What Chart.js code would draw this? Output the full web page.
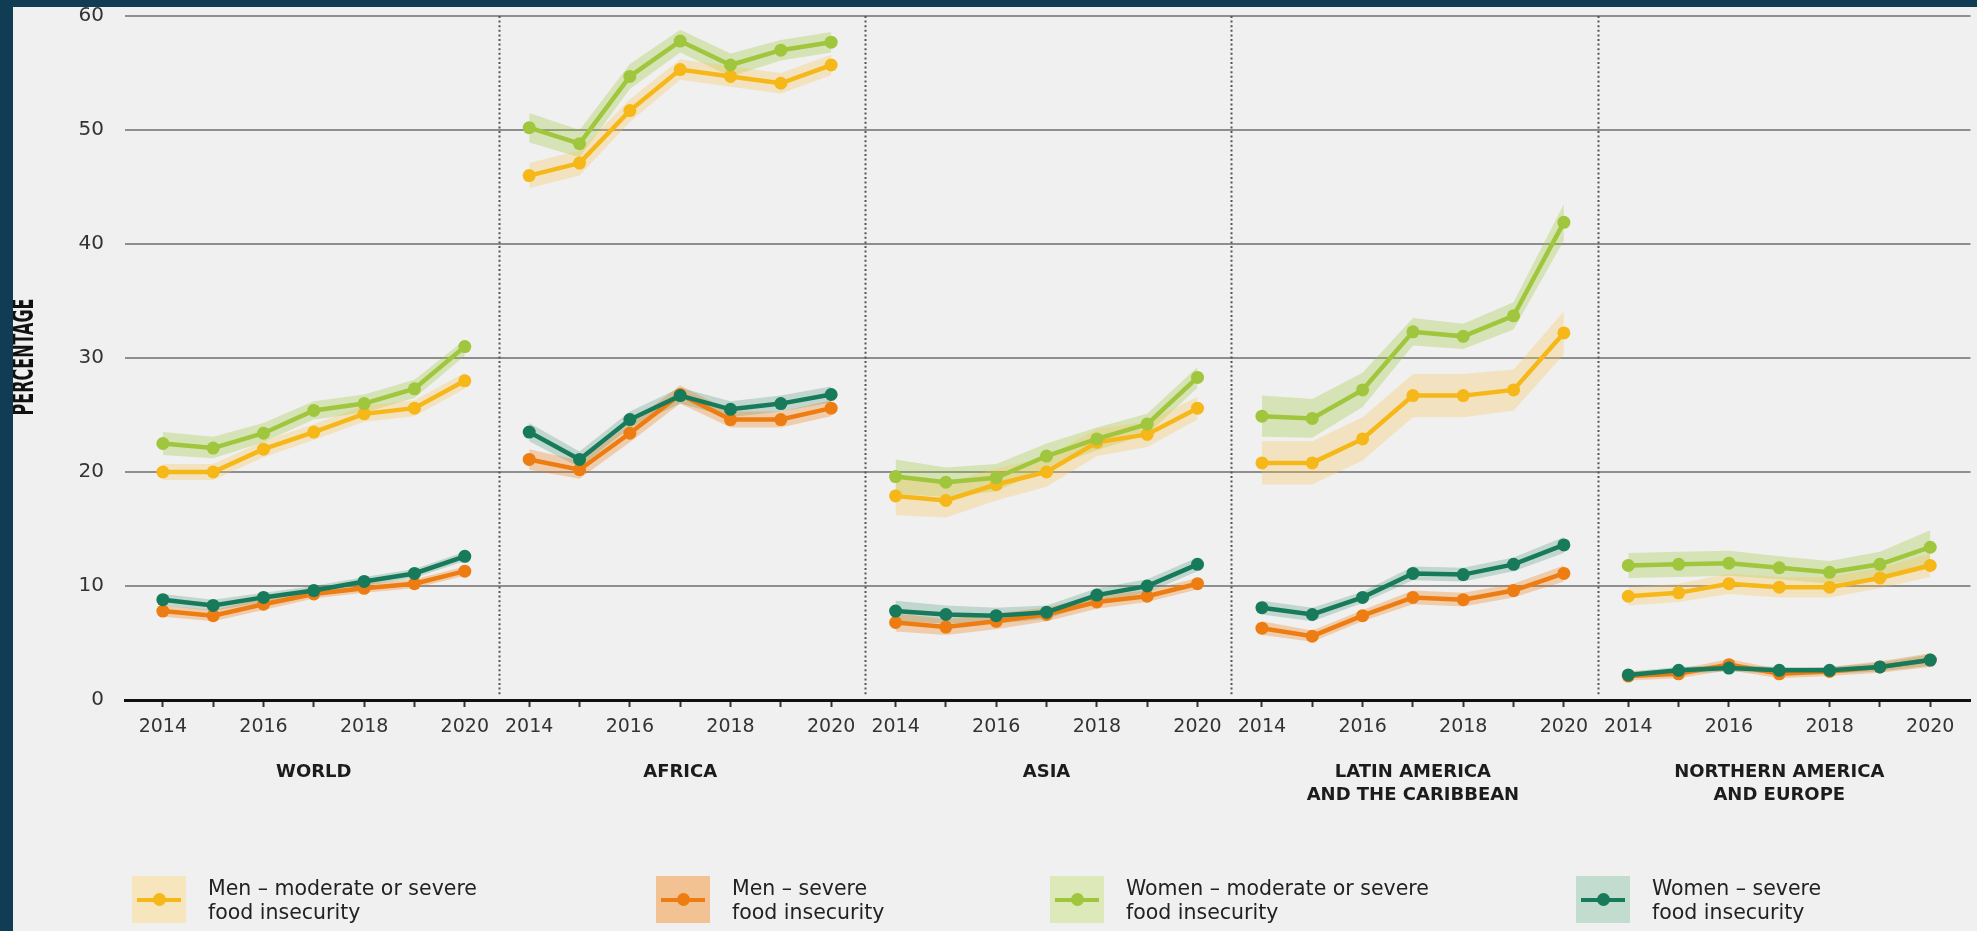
<!DOCTYPE html>
<html>
<head>
<meta charset="utf-8">
<script src="https://cdn.jsdelivr.net/npm/chart.js@4/dist/chart.umd.min.js"></script>
<style>
  html, body { margin: 0; padding: 0; }
  body { width: 1977px; height: 931px; background: #f0f0f0; position: relative; overflow: hidden; font-family: "DejaVu Sans", sans-serif; }
  #chart { position: absolute; left: 0; top: 0; }
  .band { position: absolute; background: #103d54; z-index: 2; }
  #band-top { left: 0; top: 0; width: 1977px; height: 7px; }
  #band-left { left: 0; top: 0; width: 13px; height: 931px; }
  .legend-item { position: absolute; top: 876px; }
  .swatch { position: absolute; left: 0; top: 0; width: 54px; height: 47px; }
  .swatch .stroke { position: absolute; left: 5px; right: 5px; top: 21.5px; height: 4px; }
  .swatch .dot { position: absolute; left: 20.5px; top: 17px; width: 13px; height: 13px; border-radius: 50%; }
  .legend-text { position: absolute; left: 76px; top: 0; white-space: nowrap; font-size: 20.5px; line-height: 24px; color: #222; }
</style>
</head>
<body>
<canvas id="chart" width="1977" height="931"></canvas>
<div class="band" id="band-top"></div>
<div class="band" id="band-left"></div>
<div id="legend"></div>
<script>
// Survey years and region panels
const years = [2014, 2015, 2016, 2017, 2018, 2019, 2020];
const yearLabels = ['2014', '', '2016', '', '2018', '', '2020'];
const regions = [
  ['WORLD'],
  ['AFRICA'],
  ['ASIA'],
  ['LATIN AMERICA', 'AND THE CARIBBEAN'],
  ['NORTHERN AMERICA', 'AND EUROPE']
];
const yTicks = [0, 10, 20, 30, 40, 50, 60];

// Prevalence (%) per region, one row of 7 years per region
const menModerate = [
  [20.0, 20.0, 22.0, 23.5, 25.1, 25.6, 28.0],
  [46.0, 47.1, 51.7, 55.3, 54.7, 54.1, 55.7],
  [17.9, 17.5, 18.9, 20.0, 22.6, 23.3, 25.6],
  [20.8, 20.8, 22.9, 26.7, 26.7, 27.2, 32.2],
  [9.1, 9.4, 10.2, 9.9, 9.9, 10.7, 11.8]
];
const menModerateLow = [
  [19.3, 19.3, 21.3, 22.8, 24.4, 24.9, 27.3],
  [44.9, 46.0, 50.7, 54.4, 53.8, 53.2, 54.8],
  [16.2, 16.0, 17.5, 18.7, 21.4, 22.2, 24.6],
  [18.9, 18.9, 21.0, 24.8, 24.8, 25.4, 30.3],
  [8.3, 8.6, 9.3, 9.0, 9.0, 9.8, 10.8]
];
const menModerateHigh = [
  [20.7, 20.7, 22.7, 24.2, 25.8, 26.3, 28.7],
  [47.1, 48.2, 52.7, 56.2, 55.6, 55.0, 56.6],
  [19.6, 19.0, 20.3, 21.3, 23.8, 24.4, 26.6],
  [22.7, 22.7, 24.8, 28.6, 28.6, 29.0, 34.1],
  [9.9, 10.2, 11.1, 10.8, 10.8, 11.6, 12.8]
];

const menSevere = [
  [7.8, 7.4, 8.4, 9.3, 9.8, 10.2, 11.3],
  [21.1, 20.2, 23.4, 26.8, 24.6, 24.6, 25.6],
  [6.8, 6.4, 6.9, 7.5, 8.6, 9.1, 10.2],
  [6.3, 5.6, 7.4, 9.0, 8.8, 9.6, 11.1],
  [2.1, 2.3, 3.1, 2.3, 2.5, 2.9, 3.5]
];
const menSevereLow = [
  [7.3, 6.9, 7.9, 8.9, 9.4, 9.8, 10.9],
  [20.2, 19.4, 22.6, 26.0, 23.9, 23.9, 24.9],
  [6.0, 5.7, 6.2, 6.9, 8.0, 8.6, 9.7],
  [5.7, 5.1, 6.9, 8.4, 8.2, 9.0, 10.4],
  [1.7, 1.9, 2.6, 1.9, 2.1, 2.4, 2.9]
];
const menSevereHigh = [
  [8.3, 7.9, 8.9, 9.7, 10.2, 10.6, 11.7],
  [22.0, 21.0, 24.2, 27.6, 25.3, 25.3, 26.3],
  [7.6, 7.1, 7.6, 8.1, 9.2, 9.6, 10.7],
  [6.9, 6.1, 7.9, 9.6, 9.4, 10.2, 11.8],
  [2.5, 2.7, 3.6, 2.7, 2.9, 3.4, 4.1]
];

const womenModerate = [
  [22.5, 22.1, 23.4, 25.4, 26.0, 27.3, 31.0],
  [50.2, 48.8, 54.7, 57.8, 55.7, 57.0, 57.7],
  [19.6, 19.1, 19.5, 21.4, 22.9, 24.2, 28.3],
  [24.9, 24.7, 27.2, 32.3, 31.9, 33.7, 41.9],
  [11.8, 11.9, 12.0, 11.6, 11.2, 11.9, 13.4]
];
const womenModerateLow = [
  [21.5, 21.2, 22.6, 24.6, 25.2, 26.5, 30.2],
  [48.9, 47.6, 53.6, 56.8, 54.7, 56.1, 56.8],
  [18.1, 17.8, 18.3, 20.3, 21.9, 23.3, 27.4],
  [23.1, 23.0, 25.7, 31.1, 30.8, 32.5, 40.3],
  [10.7, 10.8, 10.9, 10.6, 10.2, 10.8, 11.9]
];
const womenModerateHigh = [
  [23.5, 23.1, 24.3, 26.2, 26.8, 28.1, 31.6],
  [51.5, 50.0, 55.8, 58.8, 56.7, 57.9, 58.6],
  [21.1, 20.4, 20.7, 22.5, 23.9, 25.1, 29.2],
  [26.7, 26.4, 28.7, 33.5, 33.0, 34.9, 43.5],
  [12.9, 13.0, 13.1, 12.6, 12.2, 13.0, 14.9]
];

const womenSevere = [
  [8.8, 8.3, 9.0, 9.6, 10.4, 11.1, 12.6],
  [23.5, 21.1, 24.6, 26.7, 25.5, 26.0, 26.8],
  [7.8, 7.5, 7.4, 7.7, 9.2, 10.0, 11.9],
  [8.1, 7.5, 9.0, 11.1, 11.0, 11.9, 13.6],
  [2.2, 2.6, 2.8, 2.6, 2.6, 2.9, 3.5]
];
const womenSevereLow = [
  [8.3, 7.8, 8.6, 9.2, 10.0, 10.7, 12.2],
  [22.7, 20.4, 23.9, 26.0, 24.8, 25.3, 26.1],
  [6.9, 6.7, 6.7, 7.1, 8.6, 9.4, 11.3],
  [7.5, 6.9, 8.5, 10.5, 10.4, 11.3, 12.9],
  [1.9, 2.3, 2.5, 2.3, 2.3, 2.5, 3.0]
];
const womenSevereHigh = [
  [9.3, 8.8, 9.4, 10.0, 10.8, 11.5, 13.0],
  [24.3, 21.8, 25.3, 27.4, 26.2, 26.7, 27.5],
  [8.7, 8.3, 8.1, 8.3, 9.8, 10.6, 12.5],
  [8.7, 8.1, 9.5, 11.7, 11.6, 12.5, 14.3],
  [2.5, 2.9, 3.1, 2.9, 2.9, 3.3, 4.0]
];

// Series styling and legend text
const series = [
  { label: ['Men – moderate or severe', 'food insecurity'], values: menModerate, low: menModerateLow, high: menModerateHigh,
    line: '#f6b719', band: 'rgba(247,196,80,0.30)', swatch: '#f7e5bd', order: 4 },
  { label: ['Men – severe', 'food insecurity'], values: menSevere, low: menSevereLow, high: menSevereHigh,
    line: '#ed7d12', band: 'rgba(237,125,18,0.30)', swatch: '#f3c293', order: 2 },
  { label: ['Women – moderate or severe', 'food insecurity'], values: womenModerate, low: womenModerateLow, high: womenModerateHigh,
    line: '#9fc63c', band: 'rgba(159,198,60,0.32)', swatch: '#dde9b9', order: 3 },
  { label: ['Women – severe', 'food insecurity'], values: womenSevere, low: womenSevereLow, high: womenSevereHigh,
    line: '#177a5b', band: 'rgba(23,122,91,0.22)', swatch: '#c3dcd0', order: 1 }
];

// Each panel spans this many year-units on the shared x axis
const PANEL = 7.28;
const X_MIN = -0.752;
const X_MAX = 35.92;

const datasets = [];
series.forEach(s => {
  const pts = [];
  regions.forEach((_, r) => {
    years.forEach((yr, j) => pts.push({ x: r * PANEL + j, y: s.values[r][j] }));
    pts.push({ x: r * PANEL + 6.5, y: null });
  });
  datasets.push({
    data: pts, borderColor: s.line, backgroundColor: s.line, borderWidth: 4.5,
    pointRadius: 6.5, pointBackgroundColor: s.line, pointBorderWidth: 0,
    spanGaps: false, fill: false, tension: 0, order: s.order
  });
  regions.forEach((_, r) => {
    datasets.push({
      data: years.map((yr, j) => ({ x: r * PANEL + j, y: s.low[r][j] })),
      borderWidth: 0, borderColor: 'transparent', pointRadius: 0, fill: false, order: 20
    });
    datasets.push({
      data: years.map((yr, j) => ({ x: r * PANEL + j, y: s.high[r][j] })),
      borderWidth: 0, borderColor: 'transparent', pointRadius: 0, fill: '-1',
      backgroundColor: s.band, order: 20
    });
  });
});

// Year tick positions for all panels
const xTickValues = [];
regions.forEach((_, r) => years.forEach((yr, j) => xTickValues.push(r * PANEL + j)));

const decorations = {
  id: 'decorations',
  beforeDatasetsDraw(chart) {
    const { ctx, chartArea, scales: { x } } = chart;
    ctx.save();
    ctx.strokeStyle = '#555';
    ctx.lineWidth = 2;
    ctx.setLineDash([2, 2.6]);
    for (let k = 1; k < regions.length; k++) {
      const px = Math.round(x.getPixelForValue(k * PANEL - 0.607)) + 0.5;
      ctx.beginPath();
      ctx.moveTo(px, chartArea.top);
      ctx.lineTo(px, chartArea.bottom - 4);
      ctx.stroke();
    }
    ctx.restore();
  },
  afterDraw(chart) {
    const { ctx, scales: { x } } = chart;
    ctx.save();
    // Region names under each panel
    ctx.fillStyle = '#1c1c1c';
    ctx.font = 'bold 18px "DejaVu Sans", sans-serif';
    ctx.textAlign = 'center';
    ctx.textBaseline = 'middle';
    regions.forEach((lines, r) => {
      const cx = x.getPixelForValue(r * PANEL + 3);
      lines.forEach((t, i) => ctx.fillText(t, cx, 772 + i * 23));
    });
    // Vertical axis title
    ctx.translate(24, 357);
    ctx.rotate(-Math.PI / 2);
    ctx.font = 'bold 30px "DejaVu Sans Condensed", "DejaVu Sans", sans-serif';
    const w = ctx.measureText('PERCENTAGE').width;
    ctx.scale(117 / w, 1);
    ctx.fillStyle = '#111';
    ctx.fillText('PERCENTAGE', 0, 1);
    ctx.restore();
  }
};

new Chart(document.getElementById('chart'), {
  type: 'line',
  data: { datasets },
  options: {
    responsive: false,
    animation: false,
    events: [],
    layout: { padding: { top: 16, left: 0, right: 0, bottom: 191 } },
    plugins: { legend: { display: false }, tooltip: { enabled: false } },
    scales: {
      x: {
        type: 'linear',
        min: X_MIN,
        max: X_MAX,
        afterBuildTicks: scale => { scale.ticks = xTickValues.map(v => ({ value: v })); },
        afterFit: scale => { scale.height = 40; scale.paddingLeft = 0; scale.paddingRight = 0; },
        ticks: {
          autoSkip: false,
          maxRotation: 0,
          padding: 9,
          color: '#333',
          font: { family: '"DejaVu Sans", sans-serif', size: 19 },
          callback: (value, index) => yearLabels[index % years.length]
        },
        grid: { drawOnChartArea: false, drawTicks: true, tickLength: 7, tickWidth: 2, tickColor: '#333' },
        border: { display: true, color: '#111', width: 3 }
      },
      y: {
        min: 0,
        max: 60,
        afterBuildTicks: scale => { scale.ticks = yTicks.map(v => ({ value: v })); },
        afterFit: scale => { scale.width = 125; scale.paddingTop = 0; scale.paddingBottom = 0; },
        ticks: {
          padding: 21,
          color: '#333',
          font: { family: '"DejaVu Sans", sans-serif', size: 20 }
        },
        grid: { color: '#8e8e8e', lineWidth: 2, drawTicks: false },
        border: { display: false }
      }
    }
  },
  plugins: [decorations]
});

// Legend row
const legendLeft = [132, 656, 1050, 1576];
const legend = document.getElementById('legend');
series.forEach((s, i) => {
  const item = document.createElement('div');
  item.className = 'legend-item';
  item.style.left = legendLeft[i] + 'px';
  item.innerHTML =
    '<div class="swatch" style="background:' + s.swatch + '">' +
      '<div class="stroke" style="background:' + s.line + '"></div>' +
      '<div class="dot" style="background:' + s.line + '"></div>' +
    '</div>' +
    '<div class="legend-text">' + s.label[0] + '<br>' + s.label[1] + '</div>';
  legend.appendChild(item);
});
</script>
</body>
</html>
